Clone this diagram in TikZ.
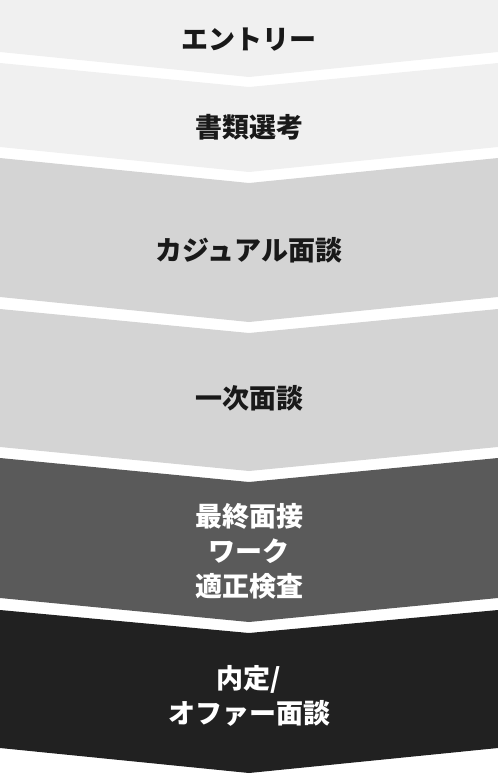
\documentclass[tikz,border=0pt]{standalone}
\usepackage{fontspec}
\setmainfont{Noto Sans CJK JP}
\usetikzlibrary{calc}

\definecolor{paleband}{HTML}{F0F0F0}
\definecolor{greyband}{HTML}{D4D4D4}
\definecolor{darkband}{HTML}{5A5A5A}
\definecolor{blackband}{HTML}{212121}

\tikzset{
  steplabel/.style={font=\bfseries\fontsize{27}{35}\selectfont, align=center, text=black!90},
  steplight/.style={steplabel, text=white}
}

\begin{document}
\begin{tikzpicture}[x=1pt, y=-1pt]

    % 1. Page size
    \useasboundingbox (0,0) rectangle (498,774);

    % 2. Chevron bands (top edge, bottom edge, dip of 24 in the middle)
    \fill[paleband]  (0,0) -- (498,0) -- (498,52) -- (249,77) -- (0,52) -- cycle;
    \fill[paleband]  (0,63) -- (249,87) -- (498,63) -- (498,147) -- (249,172) -- (0,147) -- cycle;
    \fill[greyband]  (0,158) -- (249,183) -- (498,158) -- (498,297) -- (249,322) -- (0,297) -- cycle;
    \fill[greyband]  (0,309) -- (249,333) -- (498,309) -- (498,447) -- (249,471) -- (0,447) -- cycle;
    \fill[darkband]  (0,458) -- (249,482) -- (498,458) -- (498,598) -- (249,622) -- (0,598) -- cycle;
    \fill[blackband] (0,610) -- (249,633) -- (498,610) -- (498,748) -- (249,773) -- (0,748) -- cycle;

    % 3. Step labels
    \node[steplabel] (entry)     at (249,40)  {エントリー};
    \node[steplabel] (documents) at (249,127) {書類選考};
    \node[steplabel] (casual)    at (249,250) {カジュアル面談};
    \node[steplabel] (first)     at (249,398) {一次面談};
    \node[steplight] (final)     at (249,551) {最終面接\\ワーク\\適正検査};
    \node[steplight] (offer)     at (249,696) {内定/\\オファー面談};

\end{tikzpicture}
\end{document}
